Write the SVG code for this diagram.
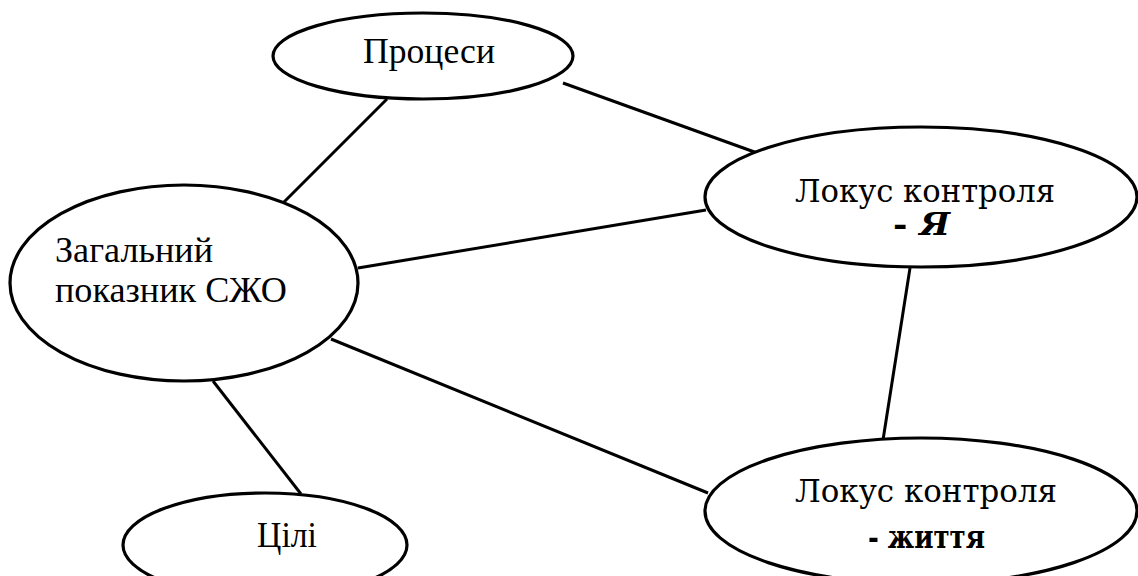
<svg xmlns="http://www.w3.org/2000/svg" width="1138" height="576" viewBox="0 0 1138 576">
<style>
.n{fill:#fff;stroke:#000;stroke-width:3.2}
.c line{stroke:#000;stroke-width:3}
.t{font-family:"Liberation Serif","DejaVu Serif",serif;fill:#000;font-size:36px}
.d{font-family:"DejaVu Serif","Liberation Serif",serif;font-size:31px}
.b{font-weight:bold}
</style>
<rect width="1138" height="576" fill="#fff"/>
<g class="c" id="connectors">
<line x1="387" y1="99" x2="283" y2="203"/>
<line x1="563" y1="83" x2="760" y2="154"/>
<line x1="358" y1="268" x2="706" y2="210"/>
<line x1="910" y1="268" x2="883" y2="440"/>
<line x1="331" y1="339" x2="708" y2="493"/>
<line x1="213" y1="381" x2="301" y2="494"/>
</g>
<g id="procesy">
<ellipse class="n" cx="423" cy="56" rx="150" ry="43"/>
<text class="t" x="363" y="63" textLength="132" lengthAdjust="spacingAndGlyphs">Процеси</text>
</g>
<g id="zahalnyi">
<ellipse class="n" cx="184" cy="283" rx="174" ry="98"/>
<text class="t" x="55" y="262" textLength="158" lengthAdjust="spacingAndGlyphs">Загальний</text>
<text class="t" x="55" y="302" textLength="232" lengthAdjust="spacingAndGlyphs">показник СЖО</text>
</g>
<g id="lokus-ya">
<ellipse class="n" cx="921" cy="197" rx="216" ry="70"/>
<text class="t d" x="795" y="202" textLength="260" lengthAdjust="spacingAndGlyphs">Локус контроля</text>
<text class="t d b" x="893" y="235" textLength="57" lengthAdjust="spacingAndGlyphs"><tspan>- </tspan><tspan font-style="italic">Я</tspan></text>
</g>
<g id="lokus-zhyttia">
<ellipse class="n" cx="921" cy="511" rx="216" ry="73"/>
<text class="t d" x="795" y="502" textLength="262" lengthAdjust="spacingAndGlyphs">Локус контроля</text>
<text class="t d b" x="868" y="548" textLength="117" lengthAdjust="spacingAndGlyphs">- життя</text>
</g>
<g id="tsili">
<ellipse class="n" cx="265" cy="545" rx="142" ry="52"/>
<text class="t" x="257" y="547" textLength="60" lengthAdjust="spacingAndGlyphs">Цілі</text>
</g>
</svg>
